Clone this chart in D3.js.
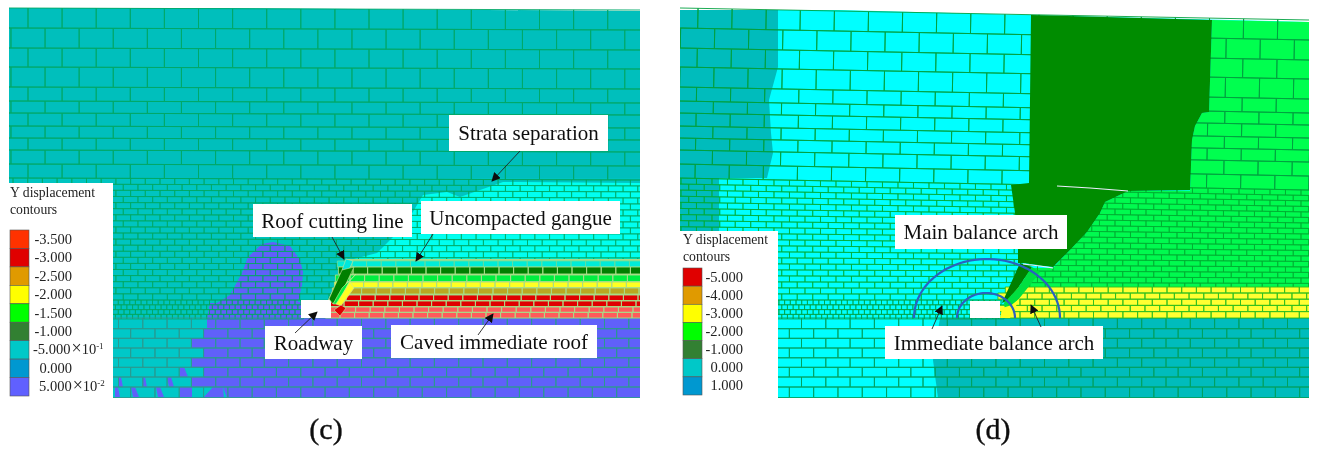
<!DOCTYPE html>
<html><head><meta charset="utf-8">
<script src="https://cdn.jsdelivr.net/npm/d3@7/dist/d3.min.js"></script>
<style>html,body{margin:0;padding:0;background:#fff}svg{display:block}</style>
</head><body>
<svg id="fig" width="1318" height="450"></svg>
<script>
// ---------- legend data ----------
const legendValuesC = ['-3.500','-3.000','-2.500','-2.000','-1.500','-1.000','-5.000','0.000','5.000'];
const legendExpC    = [null,null,null,null,null,null,'-1',null,'-2'];
const legendColorsC = ['#ff3300','#e00000','#e09a00','#ffff00','#00ff00','#308030','#00c8c8','#0098d0','#6060ff'];
const legendValuesD = ['-5.000','-4.000','-3.000','-2.000','-1.000','0.000','1.000'];
const legendColorsD = ['#e00000','#e09a00','#ffff00','#00ff00','#308030','#00c8c8','#0098d0'];

// ---------- strata courses (model units) ----------
const upperCourses = [8,28,48,67,87,101,113,126,138,150,164,178];
const middleCourses = [178,184,190,196.2,202.3,208.4,214.5,220.6,226.7,232.8,238.9,245,251.1,257.2,263.3,269.4,275.5,281.6,287.7,293.8,300];
const fineCourses = [300,304.8,309.6,314.4,319];
const lowerCourses = [318,328.7,338.3,348,357.8,367.3,377,387,397.5];

// ---------- contour zones, panel c ----------
const zoneCUpper = [[9,8],[225,8],[640,11],[640,180],[9,180]];
const zoneCMiddle = [[9,178],[640,178],[640,318],[9,318]];
const zoneCLower = [[9,318],[640,318],[640,398],[9,398]];
const zoneCCyan = [[640,183],[503,182],[460,197],[447,192],[423,195],[405,225],[390,240],[377,253],[350,260],[640,262]];
const zoneCPurple = [[273,242],[290,246],[300,260],[303,272],[302,285],[298,302],[301,302],[301,318],[640,318],[640,398],[227,398],[223,387],[224,398],[203,398],[213,387],[192,387],[192,377],[203,377],[203,367],[192,367],[192,358],[203,358],[203,348],[192,348],[192,338],[203,338],[203,329],[207,329],[207,319],[210,303],[217,303],[230,295],[242,273],[248,257],[262,244]];
const zoneCBits = [
  [[118,377],[121,377],[123,387],[118,387]],[[142,377],[145,377],[147,387],[143,387]],[[167,377],[171,377],[174,387],[169,387]],
  [[180,367],[184,367],[188,377],[180,377]],[[115,387],[118,387],[120,397],[115,397]],[[131,387],[135,387],[139,397],[133,397]],
  [[156,387],[160,387],[164,397],[158,397]],[[180,387],[192,387],[192,397],[180,397]]];
const caveCOutline = [[340,318],[328,300],[347,259],[640,259],[640,318]];
const caveRowTop   = [261,267,275,282,288,295,301,307,312.5];
const caveRowHt    = [6,7,6.5,5.5,6,5.5,5.5,5.2,5.5];
const caveRowStart = [352,353,350,349,347,346,344,341,340];
const caveRowCol   = ['#00ecd8','#008000','#00f040','#ffff20','#b8a820','#e00000','#e00000','#ff5a5a','#ff5a5a'];
const stripC = [
  {c:'#00e8dc',p:[[346,259],[353,261],[349,270],[342,270]]},
  {c:'#008000',p:[[342,270],[354,267],[342,292],[333,304],[329,299]]},
  {c:'#00f040',p:[[356,274],[349,282],[338,304],[333,304],[342,288]]},
  {c:'#ffff20',p:[[350,282],[354,288],[341,306],[336,304]]},
  {c:'#e00000',p:[[341,305],[346,308],[340,316],[334,310]]}];

// ---------- contour zones, panel d ----------
const zoneDBase = [[680,10],[840,10],[1030,15],[1309,22],[1309,398],[680,398]];
const zoneDTealTop = [[680,10],[778,10],[778,67],[769,100],[771,133],[773,153],[767,178],[719,178],[719,232],[680,232]];
const zoneDGreenTop = [[1212,20],[1309,22],[1309,192],[1190,192],[1192,140],[1195,126],[1202,113],[1209,112]];
const zoneDGreenMid = [[1128,191],[1309,190],[1309,290],[1027,290],[1025,268],[1053,268],[1070,250],[1087,232],[1100,213],[1105,202]];
const zoneDDark = [[1031,15],[1212,20],[1209,112],[1202,113],[1195,126],[1192,140],[1190,190],[1128,191],[1105,202],[1100,213],[1087,232],[1070,250],[1053,267],[1023,263],[1018,263],[1018,250],[1015,213],[1011,185],[1029,183]];
const zoneDYellow = [[1027,287],[1309,287],[1309,318],[1008,318],[1017,300]];
const yellowCourses = [287,293,299.2,305.4,311.6,318];
const stripD = [
  {c:'#008000',p:[[1020,263],[1032,267],[1018,288],[1008,300],[1002,303]]},
  {c:'#00e040',p:[[1032,267],[1040,272],[1030,285],[1018,300],[1005,310],[1004,303],[1018,288]]},
  {c:'#ffff20',p:[[1012,305],[1020,298],[1010,318],[1000,318],[1002,308]]}];
const zoneDLower = [[940,318],[1309,318],[1309,398],[938,398],[933,360]];
const slitsD = [[[1023,264],[1040,266],[1053,268]],[[1057,186],[1090,188],[1128,191]]];
const archesD = [{cx:987,rx:73,ry:59},{cx:986,rx:29,ry:25}];

// ---------- callouts ----------
const callouts = [
 {t:'Strata separation',box:[449,115,608,151],a:[[520,151],[492,181]]},
 {t:'Roof cutting line',box:[253,204,412,237],a:[[332,237],[344,259]]},
 {t:'Uncompacted gangue',box:[421,201,620,234],a:[[433,234],[416,261]]},
 {t:'Roadway',box:[265,326,362,359],a:[[295,333],[317,312]]},
 {t:'Caved immediate roof',box:[391,325,597,358],a:[[478,335],[493,314]]},
 {t:'Main balance arch',box:[895,215,1067,249],a:[]},
 {t:'Immediate balance arch',box:[885,326,1103,359],a:[[932,329],[942,306]]},
];
const extraArrow = [[1041,327],[1031,305]];
const captions = [{t:'(c)',x:326,y:439},{t:'(d)',x:993,y:439}];

// ---------- scales ----------
const W = 1318, H = 450;
const X = d3.scaleLinear().domain([0,1318]).range([0,W]);
const Y = d3.scaleLinear().domain([0,450]).range([0,H]);
const line = d3.line().x(d=>X(d[0])).y(d=>Y(d[1]));
const poly = p => line(p)+'Z';

const svg = d3.select('#fig');
const defs = svg.append('defs');
defs.append('filter').attr('id','soft').attr('x','-2%').attr('y','-2%').attr('width','104%').attr('height','104%')
  .append('feGaussianBlur').attr('stdDeviation',0.4);
defs.append('marker').attr('id','ah').attr('viewBox','0 0 10 10').attr('refX',9).attr('refY',5)
  .attr('markerWidth',9).attr('markerHeight',9).attr('markerUnits','userSpaceOnUse').attr('orient','auto')
  .append('path').attr('d','M0,0L10,5L0,10Z').attr('fill','#111');
defs.append('clipPath').attr('id','clipC').append('rect').attr('x',X(9)).attr('y',Y(0)).attr('width',X(631)).attr('height',Y(398));
defs.append('clipPath').attr('id','clipD').append('rect').attr('x',X(680)).attr('y',Y(0)).attr('width',X(629)).attr('height',Y(398));

const root = svg.append('g').attr('filter','url(#soft)');

function zones(g, list){ list.forEach(z => g.append('path').attr('d',poly(z.p)).attr('fill',z.c)); }

function bricks(g, courses, bw, x0, x1, phase, warp, fill, stroke, sw){
  const d = [];
  for(let r=0;r<courses.length-1;r++){
    const off = phase + (r%2 ? bw/2 : 0);
    for(let x=x0-bw+((off-x0)%bw+bw)%bw; x<x1; x+=bw){
      const a=x, b=x+bw, t=courses[r], u=courses[r+1];
      d.push(poly([warp(a,t),warp(b,t),warp(b,u),warp(a,u)]));
    }
  }
  g.append('path').attr('d',d.join('')).attr('fill',fill).attr('stroke',stroke).attr('stroke-width',sw);
}
const flat = (x,y)=>[x,y];
const sagC = d3.scaleLinear().domain([9,640]).range([0,2]);
const warpC = (x,y)=>[x, y + sagC(x)*Math.min(1,Math.max(0,(300-y)/122))];
const sagD = d3.scaleLinear().domain([680,1309]).range([0,12]);
const warpD = (x,y)=>[x-(Math.min(y,178)-10)*0.018, y + sagD(x)*Math.min(1,Math.max(0,(300-y)/122))];

// ---------- panel c ----------
const c = root.append('g').attr('clip-path','url(#clipC)');
zones(c,[{c:'#00bfbc',p:zoneCUpper},{c:'#00c4c0',p:zoneCMiddle},{c:'#00c8c8',p:zoneCLower},{c:'#00fff0',p:zoneCCyan},{c:'#6060fa',p:zoneCPurple}]);
zoneCBits.forEach(p=>c.append('path').attr('d',poly(p)).attr('fill','#6060fa'));
bricks(c,upperCourses,34.1,9,660,28,warpC,'none','#00a868',0.9);
bricks(c,middleCourses,14.7,9,660,13,warpC,'none','#00a860',0.7);
bricks(c,fineCourses,5.7,9,300,10,flat,'none','#00a860',0.7);
bricks(c,lowerCourses,24.3,9,660,118.5,flat,'none','#2a9a90',0.9);
// caved zone
c.append('path').attr('d',poly(caveCOutline)).attr('fill','#a8dc88');
caveRowTop.forEach((t,i)=>{
  bricks(c,[t,t+caveRowHt[i]],14.6,caveRowStart[i],660,caveRowStart[i],flat,caveRowCol[i],i===0?'#60e0a0':'#a8dc88',0.9);
});
c.append('rect').attr('x',X(301)).attr('y',Y(300)).attr('width',X(30)).attr('height',Y(18)).attr('fill','#fff');
stripC.forEach(s=>c.append('path').attr('d',poly(s.p)).attr('fill',s.c).attr('stroke','#c8e8a0').attr('stroke-width',0.6));

// ---------- panel d ----------
const dg = root.append('g').attr('clip-path','url(#clipD)');
zones(dg,[{c:'#00ffff',p:zoneDBase},{c:'#00bcbc',p:zoneDTealTop},{c:'#00ff50',p:zoneDGreenTop},{c:'#00fa50',p:zoneDGreenMid},{c:'#00bcbc',p:zoneDLower}]);
bricks(dg,upperCourses,34.1,680,1340,698,warpD,'none','#00a040',0.9);
bricks(dg,middleCourses,15.5,680,1340,684,warpD,'none','#00aa30',0.7);
bricks(dg,fineCourses,5.7,680,1000,682,flat,'none','#00a040',0.7);
bricks(dg,lowerCourses,24.3,680,1340,680,flat,'none','#00a060',0.9);
dg.append('path').attr('d',poly(zoneDYellow)).attr('fill','#40b820');
bricks(dg,yellowCourses,14.7,1012,1340,1020,flat,'#ffff30','#30c020',0.9);
dg.append('path').attr('d',poly(zoneDDark)).attr('fill','#008c00');
dg.append('rect').attr('x',X(970)).attr('y',Y(301)).attr('width',X(30)).attr('height',Y(17)).attr('fill','#fff');
stripD.forEach(s=>dg.append('path').attr('d',poly(s.p)).attr('fill',s.c));
slitsD.forEach(s=>dg.append('path').attr('d',line(s)).attr('fill','none').attr('stroke','#eef').attr('stroke-width',1.2));
const base = 318;
archesD.forEach(a=>{
  const arc = d3.range(0,181,4).map(t=>[a.cx-a.rx*Math.cos(t*Math.PI/180), base-a.ry*Math.sin(t*Math.PI/180)]);
  dg.append('path').attr('d',line(arc)).attr('fill','none').attr('stroke','#2a62c0').attr('stroke-width',2.2);
});

// ---------- callouts ----------
const serif = '"Liberation Serif","Times New Roman",serif';
callouts.forEach(k=>{
  root.append('rect').attr('x',X(k.box[0])).attr('y',Y(k.box[1])).attr('width',X(k.box[2]-k.box[0])).attr('height',Y(k.box[3]-k.box[1])).attr('fill','#fff');
  root.append('text').attr('x',X((k.box[0]+k.box[2])/2)).attr('y',Y((k.box[1]+k.box[3])/2+7))
    .attr('text-anchor','middle').attr('font-family',serif).attr('font-size',21).attr('fill','#111').text(k.t);
});
[...callouts.filter(k=>k.a.length).map(k=>k.a),extraArrow].forEach(a=>{
  root.append('path').attr('d',line(a)).attr('fill','none').attr('stroke','#222').attr('stroke-width',0.9).attr('marker-end','url(#ah)');
});

// ---------- legends ----------
function legend(x0,y0,x1,y1,titleX,titleY,swX,swY,swH,vals,cols,exps,labX,labEnd){
  root.append('rect').attr('x',X(x0)).attr('y',Y(y0)).attr('width',X(x1-x0)).attr('height',Y(y1-y0)).attr('fill','#fff');
  ['Y displacement','contours'].forEach((t,i)=>root.append('text').attr('x',X(titleX)).attr('y',Y(titleY+i*17))
     .attr('font-family',serif).attr('font-size',13.7).attr('fill','#222').text(t));
  const sy = d3.scaleBand().domain(d3.range(vals.length)).range([Y(swY),Y(swY+swH)]);
  root.selectAll(null).data(vals).join('rect').attr('x',X(swX)).attr('y',(d,i)=>sy(i)).attr('width',X(19)).attr('height',sy.bandwidth())
    .attr('fill',(d,i)=>cols[i]).attr('stroke','#555').attr('stroke-width',0.6);
  vals.forEach((v,i)=>{
    const neg = v[0]==='-';
    const tx = root.append('text').attr('y',sy(i)+sy.bandwidth()/2+4.5).attr('font-family',serif).attr('font-size',14.5).attr('fill','#222');
    if(exps&&exps[i]){
      tx.attr('x',X(neg?labX:labX+6));
      tx.append('tspan').text(v);
      tx.append('tspan').attr('font-size',18).attr('dx',1).text('×');
      tx.append('tspan').text('10');
      tx.append('tspan').attr('font-size',9).attr('dy',-5).text(exps[i]);
    } else {
      tx.attr('x',X(labEnd)).attr('text-anchor','end').text(v);
    }
  });
}
legend(9,183,113,398,10,197,10,230,166,legendValuesC,legendColorsC,legendExpC,33,72);
legend(678,231,778,398,683,244,683,268,127,legendValuesD,legendColorsD,null,706,743);

// ---------- captions ----------
captions.forEach(k=>root.append('text').attr('x',X(k.x)).attr('y',Y(k.y)).attr('text-anchor','middle')
  .attr('font-family',serif).attr('font-size',30).attr('fill','#111').attr('stroke','#111').attr('stroke-width',0.4).text(k.t));
</script>
</body></html>
